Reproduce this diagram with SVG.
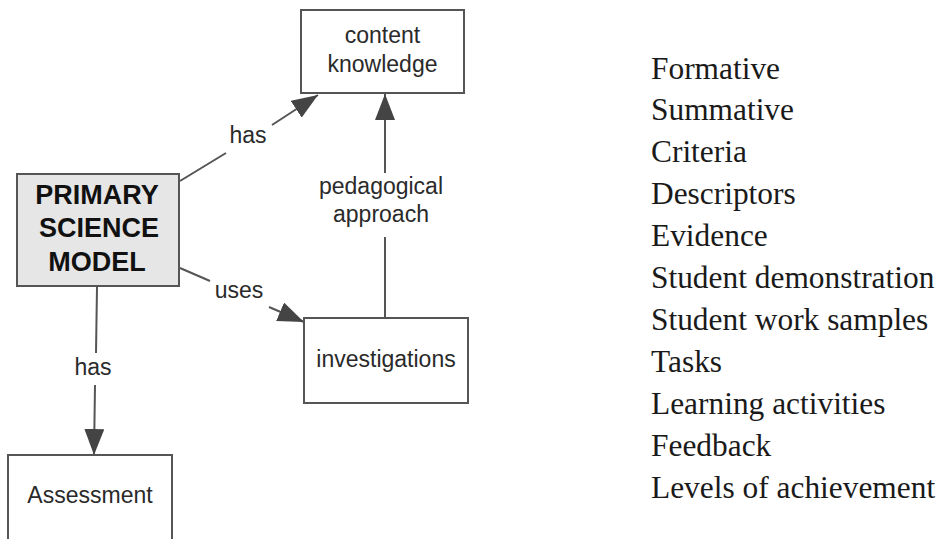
<svg xmlns="http://www.w3.org/2000/svg" width="942" height="539" viewBox="0 0 942 539">
  <style>
    .box { fill: #ffffff; stroke: #555555; stroke-width: 2; }
    .main { fill: #e6e6e6; stroke: #555555; stroke-width: 2; }
    .lbl { font-family: "Liberation Sans", Arial, sans-serif; font-size: 23px; fill: #2a2a2a; text-anchor: middle; }
    .bold { font-family: "Liberation Sans", Arial, sans-serif; font-size: 27px; font-weight: bold; fill: #111111; text-anchor: middle; }
    .edge { stroke: #555555; stroke-width: 2; fill: none; }
    .list { font-family: "Liberation Serif", "Times New Roman", serif; font-size: 31.4px; fill: #1a1a1a; }
  </style>
  <defs>
    <marker id="arrow" markerUnits="userSpaceOnUse" markerWidth="27" markerHeight="20" refX="26" refY="10" orient="auto">
      <path d="M0,0 L26,10 L0,20 Z" fill="#444444"/>
    </marker>
  </defs>

  <rect width="942" height="539" fill="#ffffff"/>

  <!-- connectors -->
  <g id="connectors">
    <!-- model has content knowledge -->
    <line class="edge" x1="180" y1="181" x2="226" y2="153"/>
    <line class="edge" x1="272" y1="125" x2="318" y2="95" marker-end="url(#arrow)"/>
    <text class="lbl" x="248" y="143">has</text>

    <!-- investigations to content knowledge -->
    <line class="edge" x1="385" y1="318" x2="385" y2="237"/>
    <line class="edge" x1="385" y1="173" x2="385" y2="94" marker-end="url(#arrow)"/>
    <text class="lbl" x="381" y="194">pedagogical</text>
    <text class="lbl" x="381" y="222">approach</text>

    <!-- model uses investigations -->
    <line class="edge" x1="180" y1="268" x2="210" y2="281"/>
    <line class="edge" x1="269" y1="307" x2="304" y2="322" marker-end="url(#arrow)"/>
    <text class="lbl" x="239" y="298">uses</text>

    <!-- model has assessment -->
    <line class="edge" x1="97" y1="287" x2="96" y2="353"/>
    <line class="edge" x1="95" y1="385" x2="94" y2="455" marker-end="url(#arrow)"/>
    <text class="lbl" x="93" y="375">has</text>
  </g>

  <!-- nodes -->
  <g id="content-knowledge">
    <rect class="box" x="301" y="10" width="163" height="83"/>
    <text class="lbl" x="382.5" y="43">content</text>
    <text class="lbl" x="382.5" y="72">knowledge</text>
  </g>

  <g id="primary-science-model">
    <rect class="main" x="17" y="174" width="162" height="112"/>
    <text class="bold" x="97" y="204">PRIMARY</text>
    <text class="bold" x="99" y="237">SCIENCE</text>
    <text class="bold" x="97" y="271">MODEL</text>
  </g>

  <g id="investigations">
    <rect class="box" x="304" y="318" width="164" height="85"/>
    <text class="lbl" x="386" y="367">investigations</text>
  </g>

  <g id="assessment">
    <rect class="box" x="8" y="455" width="164" height="90"/>
    <text class="lbl" x="90" y="503">Assessment</text>
  </g>

  <!-- assessment terms -->
  <g id="assessment-terms" class="list">
    <text x="651" y="78.5">Formative</text>
    <text x="651" y="120.4">Summative</text>
    <text x="651" y="162.3">Criteria</text>
    <text x="651" y="204.2">Descriptors</text>
    <text x="651" y="246.1">Evidence</text>
    <text x="651" y="288">Student demonstration</text>
    <text x="651" y="329.9">Student work samples</text>
    <text x="651" y="371.8">Tasks</text>
    <text x="651" y="413.7">Learning activities</text>
    <text x="651" y="455.6">Feedback</text>
    <text x="651" y="497.5">Levels of achievement</text>
  </g>
</svg>
